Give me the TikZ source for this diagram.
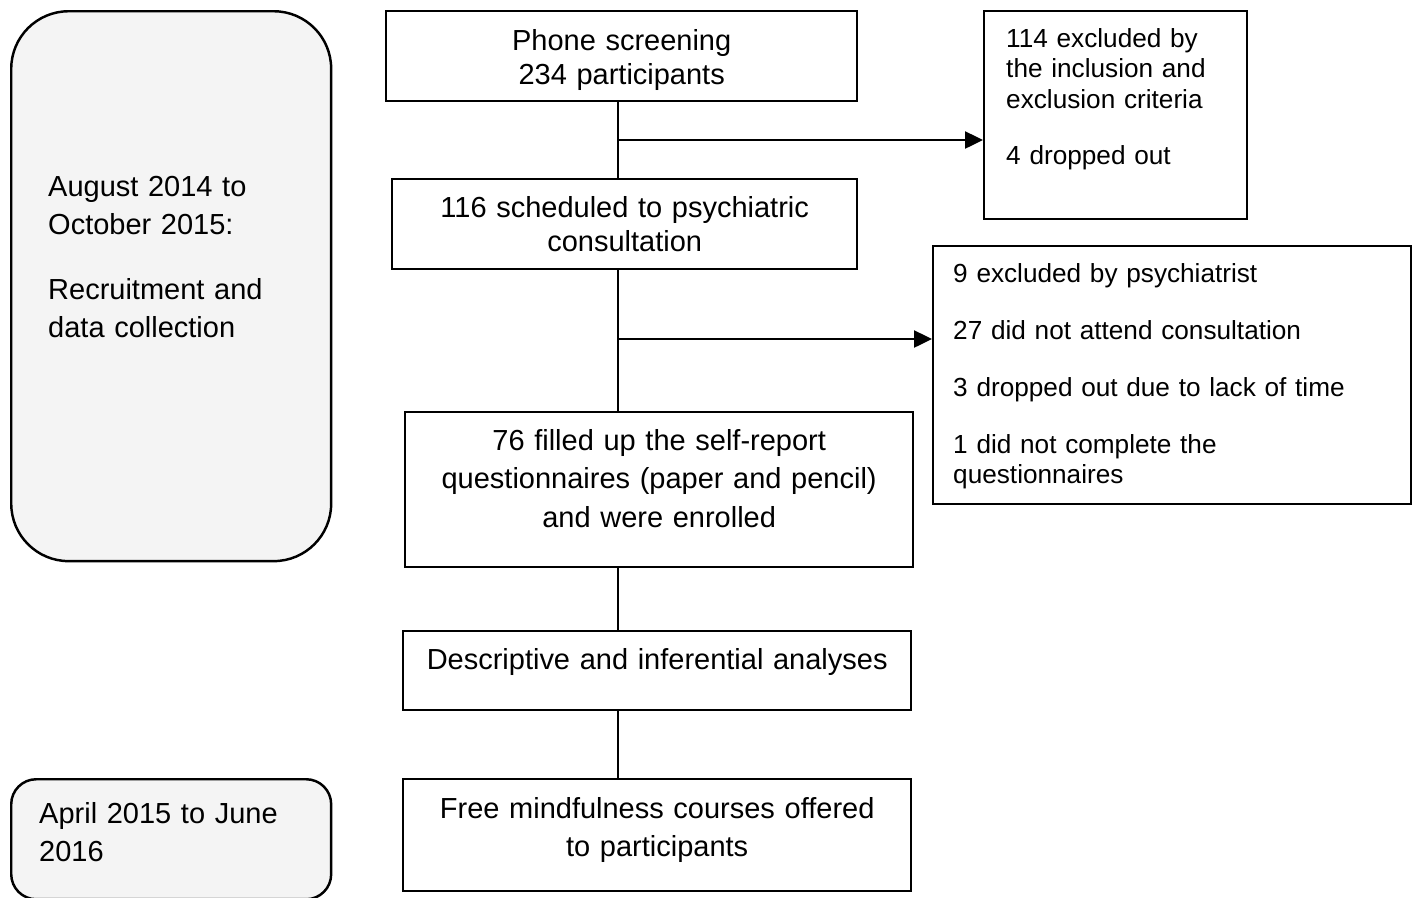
\documentclass[tikz,border=0pt]{standalone}
\usepackage{fontspec}
\setmainfont{Liberation Sans}
\usepackage{xcolor}
\usetikzlibrary{arrows.meta}
\definecolor{panelgray}{RGB}{244,244,244}
\newcommand{\boxfont}{\fontsize{16.5}{19.4}\selectfont}
\newcommand{\widefont}{\fontsize{16.5}{21.9}\selectfont}
\newcommand{\notefont}{\fontsize{14.9}{17.3}\selectfont}
\tikzset{
	>={Triangle[length=0.36cm,width=0.34cm]}, % filled arrow heads
	stage/.style={draw, line width=1.4pt, anchor=north west,
		inner xsep=0pt, inner ysep=0pt, align=center, font=\boxfont},
	note/.style={stage, align=left, font=\notefont},
	period/.style={stage, align=left, font=\widefont, fill=panelgray},
	link/.style={line width=1.4pt},
}

\begin{document}
\begin{tikzpicture}[x=0.02cm, y=-0.02cm]
	\useasboundingbox (0,0) rectangle (1413,897);

	% time periods on the left
	\node[period, rounded corners=1.15cm, inner xsep=0.74cm, text width=4.92cm,
		text height=3.70cm, text depth=7.30cm] (recruit) at (10,10)
		{August 2014 to\\October 2015:\\[15pt]Recruitment and\\data collection};
	\node[period, rounded corners=0.5cm, inner xsep=0.56cm, text width=5.28cm,
		text height=0.88cm, text depth=1.52cm] (followup) at (10,778)
		{April 2015 to June\\2016};

	% main flow
	\node[stage, text width=9.42cm, text height=0.78cm, text depth=1.02cm] (phone) at (385,10)
		{Phone screening\\234 participants};
	\node[stage, text width=9.30cm, text height=0.76cm, text depth=1.04cm] (sched) at (391,178)
		{116 scheduled to psychiatric\\consultation};
	\node[stage, font=\widefont, text width=10.16cm, text height=0.76cm, text depth=2.34cm] (enrolled) at (404,411)
		{76 filled up the self-report\\questionnaires (paper and pencil)\\and were enrolled};
	\node[stage, text width=10.16cm, text height=0.76cm, text depth=0.82cm] (analyses) at (402,630)
		{Descriptive and inferential analyses};
	\node[stage, font=\widefont, text width=10.16cm, text height=0.78cm, text depth=1.46cm] (courses) at (402,778)
		{Free mindfulness courses offered\\to participants};

	% exclusions
	\node[note, inner xsep=0.44cm, text width=4.38cm, text height=0.72cm, text depth=3.44cm] (excl1) at (983,10)
		{114 excluded by\\the inclusion and\\exclusion criteria\\[15.1pt]4 dropped out};
	\node[note, inner xsep=0.40cm, text width=8.76cm, text height=0.72cm, text depth=4.44cm] (excl2) at (932,245)
		{9 excluded by psychiatrist\\[15.1pt]27 did not attend consultation\\[15.1pt]3 dropped out due to lack of time\\[15.1pt]1 did not complete the\\questionnaires};

	\coordinate (trunk) at (618,0);
	\coordinate (split1) at (618,140);
	\coordinate (split2) at (618,339);

	\draw[link] (phone.south -| trunk) -- (sched.north -| trunk);
	\draw[link] (sched.south -| trunk) -- (enrolled.north -| trunk);
	\draw[link] (enrolled.south -| trunk) -- (analyses.north -| trunk);
	\draw[link] (analyses.south -| trunk) -- (courses.north -| trunk);
	\draw[link, ->] (split1) -- (split1 -| excl1.west);
	\draw[link, ->] (split2) -- (split2 -| excl2.west);
\end{tikzpicture}
\end{document}
